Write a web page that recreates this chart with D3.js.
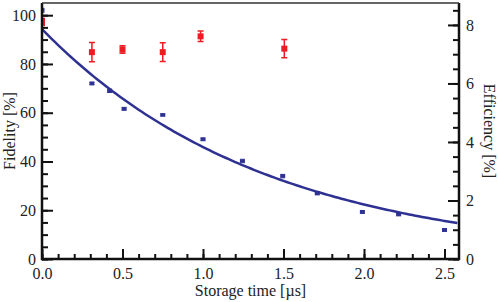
<!DOCTYPE html>
<meta charset='utf-8'>
<script src='https://d3js.org/d3.v7.min.js'></script>
<style>
body { margin: 0; background: #fff; }
</style>
<body>
<script>
// fidelity data (left axis)
var fidTime = [0.0, 0.31, 0.42, 0.51, 0.75, 1.0, 1.245, 1.495, 1.71, 1.99, 2.215, 2.50];
var fidValue = [102.0, 72.0, 69.0, 61.6, 59.1, 49.1, 40.2, 34.0, 26.9, 19.3, 18.3, 11.9];
var fidErr = [0.8, 0.6, 0.7, 0.6, 0.5, 0.6, 0.7, 0.7, 0.6, 0.6, 0.6, 0.6];

// efficiency data (right axis)
var effTime = [0.0, 0.31, 0.50, 0.75, 0.985, 1.505];
var effValue = [8.1, 7.07, 7.16, 7.07, 7.61, 7.19];
var effErr = [0.12, 0.33, 0.13, 0.32, 0.18, 0.31];

// exponential fit of fidelity
var fitAmp = 94.3, fitTau = 1.39;

var width = 498, height = 302;
var margin = {top: 3, right: 39, bottom: 43, left: 42};
var w = width - margin.left - margin.right,
    h = height - margin.top - margin.bottom;
var serif = "'Liberation Serif', 'Times New Roman', Times, serif";

var svg = d3.select('body').append('svg').attr('width', width).attr('height', height);
var g = svg.append('g').attr('transform', 'translate(' + margin.left + ',' + margin.top + ')');

var x = d3.scaleLinear().domain([0, 2.59]).range([0, w]);
var y = d3.scaleLinear().domain([0, 105]).range([h, 0]);
var y2 = d3.scaleLinear().domain([0, 8.75]).range([h, 0]);

var blue = '#2e3192', red = '#ed1c24';

svg.append('clipPath').attr('id', 'clip').append('rect')
    .attr('width', w).attr('height', h);

// fit curve
var curveT = d3.range(0, 2.59 + 0.001, 0.02);
var line = d3.line()
    .x(function(t) { return x(t); })
    .y(function(t) { return y(fitAmp * Math.exp(-t / fitTau)); });
g.append('path').datum(curveT)
    .attr('d', line)
    .attr('fill', 'none').attr('stroke', blue).attr('stroke-width', 2.5)
    .attr('clip-path', 'url(#clip)');

// fidelity points
var fid = fidTime.map(function(t, i) { return {t: t, v: fidValue[i], e: fidErr[i]}; });
var fg = g.append('g').attr('clip-path', 'url(#clip)');
fg.selectAll('.fe').data(fid).enter().append('path')
    .attr('d', function(d) {
      var cx = x(d.t), a = y(d.v + d.e), b = y(d.v - d.e);
      return 'M' + (cx - 2.5) + ',' + a + 'H' + (cx + 2.5) + 'M' + cx + ',' + a + 'V' + b +
             'M' + (cx - 2.5) + ',' + b + 'H' + (cx + 2.5);
    })
    .attr('stroke', blue).attr('stroke-width', 1).attr('fill', 'none');
fg.selectAll('.fp').data(fid).enter().append('rect')
    .attr('x', function(d) { return x(d.t) - 2.5; })
    .attr('y', function(d) { return y(d.v) - 1.5; })
    .attr('width', 5).attr('height', 3)
    .attr('fill', blue);

// efficiency points
var eff = effTime.map(function(t, i) { return {t: t, v: effValue[i], e: effErr[i]}; });
var eg = g.append('g').attr('clip-path', 'url(#clip)');
eg.selectAll('.ee').data(eff).enter().append('path')
    .attr('d', function(d) {
      var cx = x(d.t), a = y2(d.v + d.e), b = y2(d.v - d.e);
      return 'M' + (cx - 3) + ',' + a + 'H' + (cx + 3) + 'M' + cx + ',' + a + 'V' + b +
             'M' + (cx - 3) + ',' + b + 'H' + (cx + 3);
    })
    .attr('stroke', red).attr('stroke-width', 1.5).attr('fill', 'none');
eg.selectAll('.ep').data(eff).enter().append('rect')
    .attr('x', function(d) { return x(d.t) - 3; })
    .attr('y', function(d) { return y2(d.v) - 3; })
    .attr('width', 6).attr('height', 6)
    .attr('fill', red);

// axes
function styleAxis(sel) {
  sel.attr('font-family', null).attr('font-size', null);
  sel.select('.domain').remove();
  sel.selectAll('line').attr('stroke', '#111').attr('stroke-width', 2);
  sel.selectAll('text').style('font-size', '16px').style('font-family', serif).attr('fill', '#222');
}

// minor ticks
g.append('g').attr('transform', 'translate(0,' + h + ')')
    .call(d3.axisBottom(x).tickValues(d3.range(0, 2.59, 0.1)).tickSize(-5).tickFormat(''))
    .call(styleAxis);
g.append('g')
    .call(d3.axisLeft(y).tickValues(d3.range(0, 105, 5)).tickSize(-6).tickFormat(''))
    .call(styleAxis);
g.append('g').attr('transform', 'translate(' + w + ',0)')
    .call(d3.axisRight(y2).tickValues(d3.range(0, 8.75, 0.5)).tickSize(-6).tickFormat(''))
    .call(styleAxis);

// major ticks
g.append('g').attr('transform', 'translate(0,' + h + ')')
    .call(d3.axisBottom(x).tickValues([0, 0.5, 1, 1.5, 2, 2.5]).tickSize(-10).tickPadding(9)
      .tickFormat(d3.format('.1f')))
    .call(styleAxis);
g.append('g')
    .call(d3.axisLeft(y).tickValues([0, 20, 40, 60, 80, 100]).tickSize(-11).tickPadding(6))
    .call(styleAxis);
g.append('g').attr('transform', 'translate(' + w + ',0)')
    .call(d3.axisRight(y2).tickValues([0, 2, 4, 6, 8]).tickSize(-11).tickPadding(7))
    .call(styleAxis);

// frame
g.append('path')
    .attr('d', 'M0,0V' + h + 'H' + w + 'V0')
    .attr('fill', 'none').attr('stroke', '#111').attr('stroke-width', 2.5);
g.append('line').attr('x1', 0).attr('x2', w).attr('y1', 0).attr('y2', 0)
    .attr('stroke', '#333').attr('stroke-width', 1.5);

// labels
function label(sel) {
  return sel.attr('text-anchor', 'middle').style('font-size', '16px')
      .style('font-family', serif).attr('fill', '#222');
}
svg.append('text')
    .attr('x', margin.left + w / 2).attr('y', 296)
    .call(label)
    .text('Storage time [\u00b5s]');
svg.append('text')
    .attr('transform', 'translate(15,' + (margin.top + h / 2) + ') rotate(-90)')
    .call(label)
    .text('Fidelity [%]');
svg.append('text')
    .attr('transform', 'translate(484,' + (margin.top + h / 2) + ') rotate(90)')
    .call(label)
    .text('Efficiency [%]');
</script>
</body>
